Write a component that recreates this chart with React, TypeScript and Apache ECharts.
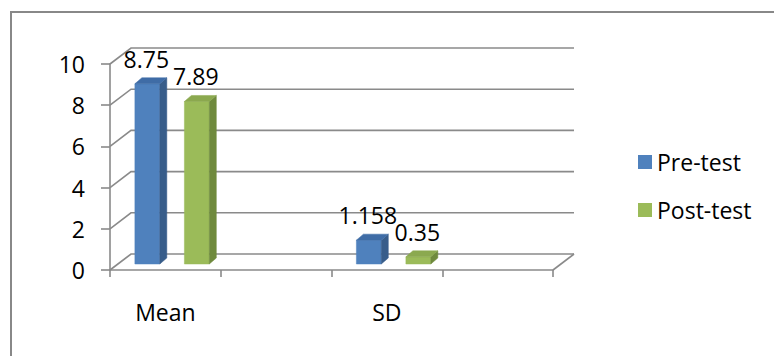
import React, { useEffect, useRef } from "react";
import * as echarts from "echarts";

const categories = ["Mean", "", "SD", ""];
const preTest: (number | null)[] = [8.75, null, 1.158, null];
const postTest: (number | null)[] = [7.89, null, 0.35, null];
const yTickValues = [0, 2, 4, 6, 8, 10];
const seriesNames = ["Pre-test", "Post-test"];

const FONT = "Open Sans";
const FS = 23;
const GRID_COLOR = "#8a8a8a";
const WALL_DX = 21;
const WALL_DY = 16;
const MID_DX = 8;
const MID_DY = 6;
const BAR_DX = 7;
const BAR_DY = 6;
const BAR_W = 0.225;

function toPoints(arr: (number | null)[]) {
  const out: number[][] = [];
  arr.forEach((v, i) => {
    if (v != null) out.push([i, v]);
  });
  return out;
}

function barRenderer(offsetFrac: number, front: string, side: string, top: string) {
  return (params: any, api: any) => {
    const idx = api.value(0);
    const val = api.value(1);
    const base = api.coord([idx, 0]);
    const tp = api.coord([idx, val]);
    const band = api.size([1, 0])[0];
    const w = band * BAR_W;
    const cx = base[0] + band * offsetFrac + MID_DX;
    const x0 = cx - w / 2;
    const x1 = cx + w / 2;
    const yb = base[1] - MID_DY;
    const yt = tp[1] - MID_DY;
    return {
      type: "group",
      children: [
        {
          type: "polygon",
          shape: { points: [[x0, yt], [x1, yt], [x1, yb], [x0, yb]] },
          style: { fill: front, stroke: front, lineWidth: 0.5 },
        },
        {
          type: "polygon",
          shape: {
            points: [[x1, yt], [x1 + BAR_DX, yt - BAR_DY], [x1 + BAR_DX, yb - BAR_DY], [x1, yb]],
          },
          style: { fill: side, stroke: side, lineWidth: 0.5 },
        },
        {
          type: "polygon",
          shape: {
            points: [[x0, yt], [x0 + BAR_DX, yt - BAR_DY], [x1 + BAR_DX, yt - BAR_DY], [x1, yt]],
          },
          style: { fill: top, stroke: top, lineWidth: 0.5 },
        },
        {
          type: "text",
          x: cx - 1,
          y: yt - 25,
          style: {
            text: String(val),
            align: "center",
            verticalAlign: "middle",
            fill: "#000",
            fontSize: FS,
            fontFamily: FONT,
          },
        },
      ],
    };
  };
}

function wallRenderer(params: any, api: any) {
  const v = api.value(1);
  const cs = params.coordSys;
  const left = cs.x;
  const right = cs.x + cs.width;
  const y = api.coord([0, v])[1];
  const children: any[] = [
    {
      type: "polyline",
      shape: {
        points: [[left, y], [left + WALL_DX, y - WALL_DY], [right + WALL_DX, y - WALL_DY]],
      },
      style: { stroke: GRID_COLOR, lineWidth: 1.6, fill: "none" },
    },
  ];
  if (v === 0) {
    children.push({
      type: "line",
      shape: { x1: right, y1: y, x2: right + WALL_DX, y2: y - WALL_DY },
      style: { stroke: GRID_COLOR, lineWidth: 1.6 },
    });
  }
  return { type: "group", children };
}

export default function App() {
  const ref = useRef<HTMLDivElement>(null);
  useEffect(() => {
    const chart = echarts.init(ref.current!, null, { renderer: "svg" });
    chart.setOption({
      animation: false,
      backgroundColor: "#fff",
      textStyle: { fontFamily: FONT },
      graphic: [
        {
          type: "rect",
          shape: { x: 11, y: 12, width: 800, height: 400 },
          style: { fill: "none", stroke: "#888", lineWidth: 2 },
          silent: true,
        },
      ],
      legend: {
        data: seriesNames,
        orient: "vertical",
        left: 638,
        top: 150,
        padding: 0,
        itemWidth: 14,
        itemHeight: 14,
        itemGap: 24,
        icon: "rect",
        textStyle: { fontSize: FS, fontFamily: FONT, color: "#000", lineHeight: 24 },
      },
      grid: { left: 110, right: 221, top: 64, bottom: 86 },
      xAxis: {
        type: "category",
        data: categories,
        axisLine: { lineStyle: { color: GRID_COLOR, width: 1.6 } },
        axisTick: { show: true, length: 7, lineStyle: { color: GRID_COLOR, width: 1.6 } },
        axisLabel: { interval: 0, margin: 30, fontSize: FS, fontFamily: FONT, color: "#000" },
      },
      yAxis: {
        type: "value",
        min: 0,
        max: 10,
        interval: 2,
        axisLine: { show: true, lineStyle: { color: GRID_COLOR, width: 1.6 } },
        axisTick: { show: true, length: 9, lineStyle: { color: GRID_COLOR, width: 1.6 } },
        splitLine: { show: false },
        axisLabel: { margin: 25, fontSize: FS, fontFamily: FONT, color: "#000" },
      },
      series: [
        {
          type: "custom",
          name: "walls",
          silent: true,
          z: 1,
          itemStyle: { color: GRID_COLOR },
          renderItem: wallRenderer,
          data: yTickValues.map((v) => [0, v]),
        },
        {
          type: "custom",
          name: seriesNames[0],
          z: 3,
          itemStyle: { color: "#4F81BD" },
          renderItem: barRenderer(-0.235, "#4F81BD", "#385D8A", "#3F6CA6"),
          data: toPoints(preTest),
        },
        {
          type: "custom",
          name: seriesNames[1],
          z: 3,
          itemStyle: { color: "#9BBB59" },
          renderItem: barRenderer(0.212, "#9BBB59", "#6F8A3D", "#8BA94F"),
          data: toPoints(postTest),
        },
      ],
    });
    return () => chart.dispose();
  }, []);
  return (
    <div
      ref={ref}
      style={{ position: "fixed", left: 0, top: 0, width: 774, height: 356 }}
    />
  );
}
